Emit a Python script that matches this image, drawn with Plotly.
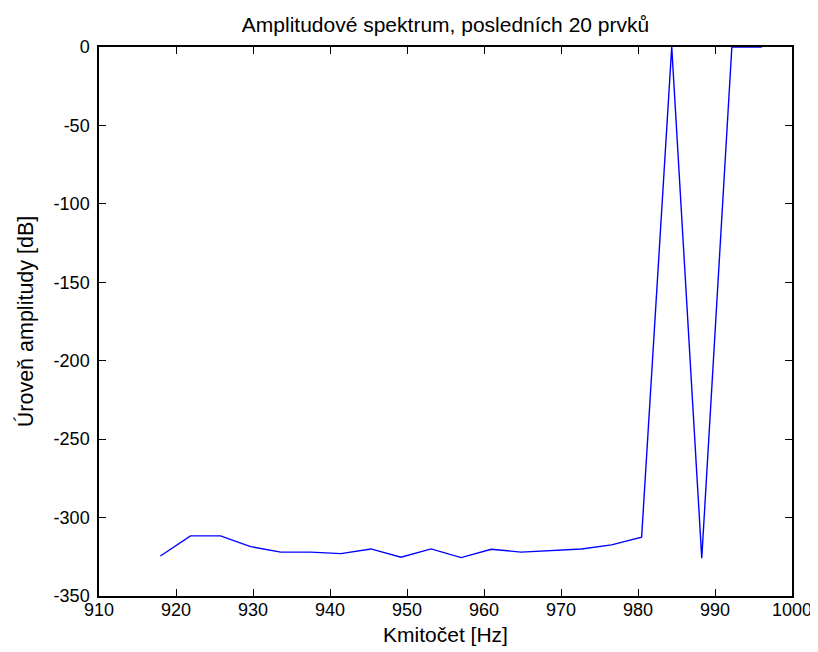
import plotly.graph_objects as go

freq_hz = [917.97, 921.88, 925.78, 929.69, 933.59, 937.50, 941.41, 945.31, 949.22,
           953.13, 957.03, 960.94, 964.84, 968.75, 972.66, 976.56, 980.47, 984.38,
           988.28, 992.19, 996.09]
level_db = [-324.5, -311.7, -311.7, -318.5, -322.0, -322.0, -323.0, -320.0, -325.3,
            -320.0, -325.5, -320.2, -322.0, -321.2, -320.0, -317.4, -312.5, 0.0,
            -325.9, 0.0, 0.0]
x_ticks = [910, 920, 930, 940, 950, 960, 970, 980, 990, 1000]
y_ticks = [0, -50, -100, -150, -200, -250, -300, -350]

title_text = "Amplitudové spektrum, posledních 20 prvků"
x_label = "Kmitočet [Hz]"
y_label = "Úroveň amplitudy [dB]"

FONT = "Liberation Sans, Arial, sans-serif"

fig = go.Figure()
fig.add_trace(go.Scatter(x=freq_hz, y=level_db, mode="lines",
                         line=dict(color="#0000ff", width=1.4),
                         cliponaxis=False, showlegend=False))

axis_common = dict(showgrid=False, zeroline=False, showline=True, linecolor="black",
                   linewidth=1.5, mirror="ticks", ticks="inside", ticklen=7,
                   tickwidth=1.2, tickcolor="black", automargin=False,
                   layer="below traces",
                   tickfont=dict(family=FONT, size=18, color="black"))

fig.update_xaxes(range=[910, 1000], tickvals=x_ticks, ticktext=[str(v) for v in x_ticks],
                 ticklabelstandoff=-3,
                 title=dict(text=x_label, font=dict(family=FONT, size=21, color="black"), standoff=8),
                 **axis_common)
fig.update_yaxes(range=[-350, 0], tickvals=y_ticks, ticktext=[str(v) for v in y_ticks],
                 ticklabelstandoff=4,
                 title=dict(text=y_label, font=dict(family=FONT, size=21.5, color="black"), standoff=14),
                 **axis_common)

# The page body has an 8px default margin, so the figure is sized to fit the window.
fig.update_layout(
    width=810, height=644,
    margin=dict(l=91, r=26, t=39, b=56),
    paper_bgcolor="white", plot_bgcolor="white",
    title=dict(text=title_text, x=0.5, xanchor="center", y=0.974, yanchor="middle",
               xref="paper",
               font=dict(family=FONT, size=21, color="black")),
)

fig.write_html("out.html")
